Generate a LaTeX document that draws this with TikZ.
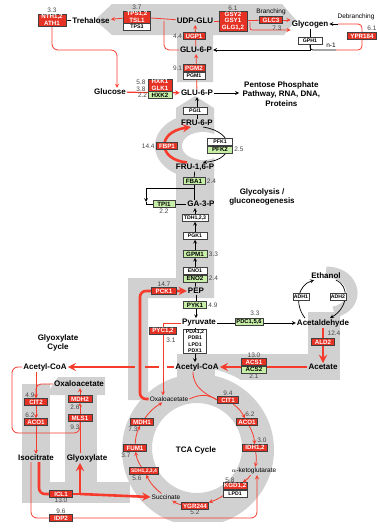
\documentclass[tikz,border=0pt]{standalone}
\usepackage{fontspec}
\setmainfont{Liberation Sans}
\usetikzlibrary{arrows,positioning,calc}

\definecolor{BoxRed}{RGB}{230,50,36}
\definecolor{LineRed}{RGB}{246,58,44}
\definecolor{BoxGreen}{RGB}{198,238,166}
\definecolor{BandGrey}{RGB}{209,209,209}
\definecolor{NumGrey}{RGB}{70,70,70}

\pgfdeclarelayer{bands}
\pgfdeclarelayer{lines}
\pgfsetlayers{bands,lines,main}

\tikzset{
  met/.style={font=\fontsize{8}{9}\selectfont\bfseries, inner sep=1pt},
  sub/.style={font=\fontsize{6.5}{7}\selectfont, inner sep=1pt},
  enz/.style={draw=black!75, line width=0.5pt, fill=BoxRed, text=white,
    font=\fontsize{6.2}{6.6}\selectfont\bfseries, inner sep=0.6pt,
    minimum width=23pt, minimum height=7pt, align=center},
  enzgreen/.style={enz, fill=BoxGreen, text=black},
  enzwhite/.style={enz, fill=white, text=black, font=\fontsize{5.2}{6}\selectfont\bfseries},
  num/.style={text=NumGrey, font=\fontsize{6.5}{7}\selectfont, inner sep=0.5pt},
  heading/.style={font=\fontsize{8}{9.5}\selectfont\bfseries, align=center},
  redthick/.style={LineRed, line width=2.6pt},
  redthin/.style={LineRed, line width=0.8pt},
  blackline/.style={black, line width=0.7pt},
}

\begin{document}
\begin{tikzpicture}[x=1pt,y=-1pt]
\useasboundingbox (0,0) rectangle (377,522);

% ---------- grey bands ----------
\begin{pgfonlayer}{bands}
  % storage carbohydrates
  \fill[BandGrey] (95,20) -- (112,4) -- (282,4) -- (296,20) -- (284,35)
    -- (213,35) -- (213,82) -- (177,82) -- (177,35) -- (112,35) -- cycle;
  % glycolysis column
  \fill[BandGrey] (176,108) -- (195,96) -- (214,108) -- (214,298)
    -- (148,298) -- (148,400) -- (128,400) -- (128,278) -- (176,278) -- cycle;
  \begin{scope}
    \clip (0,0) rectangle (214,522);
    \fill[BandGrey] (197,146) ellipse [x radius=42pt, y radius=32pt];
  \end{scope}
  \fill[white] (203,146) ellipse [x radius=21pt, y radius=14pt];
  % acetyl-CoA block and ethanol
  \fill[BandGrey] (177,354) rectangle (340,380);
  \fill[BandGrey] (177,354) rectangle (215,398);
  \fill[BandGrey] (308,312) rectangle (340,354);
  \draw[BandGrey, line width=11pt] (326,272) .. controls (356,272) and (362,306) .. (334,312);
  % TCA ring
  \begin{scope}
    \clip (215,0) rectangle (377,522);
    \fill[white] (198,450) circle [radius=82pt];
  \end{scope}
  \fill[BandGrey, even odd rule] (198,450) circle [radius=76pt]
    (197,448) circle [radius=45pt];
  % glyoxylate cycle
  \fill[BandGrey] (22,384) rectangle (50,503);
  \fill[BandGrey] (22,482) rectangle (130,503);
  \fill[BandGrey] (65,392) rectangle (97,482);
  \fill[BandGrey] (48,392) -- (58,377) -- (105,377) -- (105,395) -- (48,395) -- cycle;
\end{pgfonlayer}

% ---------- metabolites ----------
\node[met] (trehalose) at (91,21) {Trehalose};
\node[met] (udpglu) at (195,21) {UDP-GLU};
\node[met] (glycogen) at (310,24) {Glycogen};
\node[met] (glu6pa) at (196,50) {GLU-6-P};
\node[met] (glucose) at (110,92) {Glucose};
\node[met] (glu6pb) at (197,93) {GLU-6-P};
\node[heading, anchor=west] (ppp) at (239,94) {Pentose Phosphate\\Pathway, RNA, DNA,\\Proteins};
\node[met] (fru6p) at (197,123) {FRU-6-P};
\node[met] (fru16p) at (195,167) {FRU-1,6-P};
\node[heading] (glyc) at (262,197) {Glycolysis /\\gluconeogenesis};
\node[met] (ga3p) at (201,204) {GA-3-P};
\node[met] (pep) at (196,291) {PEP};
\node[met] (pyruvate) at (199,323) {Pyruvate};
\node[met] (acetaldehyde) at (323,323) {Acetaldehyde};
\node[met] (ethanol) at (326,276) {Ethanol};
\node[met] (acetate) at (323,367) {Acetate};
\node[met] (acoar) at (197,367) {Acetyl-CoA};
\node[met] (acoal) at (45,367) {Acetyl-CoA};
\node[heading] (glyox) at (58,343) {Glyoxylate\\Cycle};
\node[met] (oaal) at (79,384) {Oxaloacetate};
\node[met] (isocitrate) at (36,458) {Isocitrate};
\node[met] (glyoxylate) at (87,458) {Glyoxylate};
\node[met] (tcalabel) at (196,450) {TCA Cycle};
\node[sub] (oaa) at (169,399) {Oxaloacetate};
\node[sub] (akg) at (254,471) {$\alpha$-ketoglutarate};
\node[sub] (succinate) at (166,497) {Succinate};

% ---------- enzymes ----------
\node[enz, minimum width=28pt] (nth) at (52,20) {NTH1,2\\ATH1};
\node[num, above=0pt of nth] {3.3};
\node[enz, minimum width=27pt] (tps) at (137,17) {TPS1,2\\TSL1};
\node[enzwhite, minimum width=27pt, below=0pt of tps] (tps3) {TPS3};
\node[num, above=0pt of tps] {3.7};
\node[enz, minimum width=28pt] (gsy) at (233,21) {GSY2\\GSY1\\GLG1,2};
\node[num, above=0pt of gsy] {6.1};
\node[enz] (glc3) at (271,20) {GLC3};
\node[sub, above=0pt of glc3] {Branching};
\node[num] at (277,28) {7.3};
\node[sub] at (356,17) {Debranching};
\node[enz, minimum width=29pt] (ypr) at (362,36) {YPR184};
\node[num] at (372,28) {6.1};
\node[enzwhite, minimum width=24pt] (gph1) at (310,41) {GPH1};
\node[sub] at (331,45) {n-1};
\node[enz, minimum width=22pt] (ugp1) at (194,36) {UGP1};
\node[num, left=0pt of ugp1] {4.4};
\node[enz, minimum width=22pt] (pgm2) at (194,68) {PGM2};
\node[enzwhite, minimum width=22pt, below=0pt of pgm2] (pgm1) {PGM1};
\node[num, left=0pt of pgm2] {9.1};
\node[enz, minimum width=24pt] (hxk) at (160,85) {HXK1\\GLK1};
\node[enzgreen, minimum width=24pt, below=0pt of hxk] (hxk2) {HXK2};
\node[num] at (141,82) {5.8};
\node[num] at (141,89) {3.8};
\node[num, left=0pt of hxk2] {2.2};
\node[enzwhite, minimum width=24pt] (pgi1) at (195,111) {PGI1};
\node[enz, minimum width=21pt] (fbp1) at (167,146) {FBP1};
\node[num, left=1pt of fbp1] {14.4};
\node[enzwhite, minimum width=25pt] (pfk1) at (220,142) {PFK1};
\node[enzgreen, minimum width=25pt, below=0pt of pfk1] (pfk2) {PFK2};
\node[num, right=1pt of pfk2] {2.5};
\node[enzgreen, minimum width=22pt] (fba1) at (194,181) {FBA1};
\node[num, right=1pt of fba1] {2.4};
\node[enzgreen, minimum width=22pt] (tpi1) at (164,204) {TPI1};
\node[num, below=0.5pt of tpi1] {2.2};
\node[enzwhite, minimum width=26pt] (tdh) at (195,218) {TDH1,2,3};
\node[enzwhite, minimum width=24pt] (pgk1) at (195,236) {PGK1};
\node[enzgreen, minimum width=24pt] (gpm1) at (195,254) {GPM1};
\node[num, right=1pt of gpm1] {3.3};
\node[enzwhite, minimum width=24pt] (eno1) at (195,271) {ENO1};
\node[enzgreen, minimum width=24pt, below=0pt of eno1] (eno2) {ENO2};
\node[num, right=1pt of eno2] {2.4};
\node[enz, minimum width=25pt] (pck1) at (164,291) {PCK1};
\node[num, above=0pt of pck1] {14.7};
\node[enzgreen, minimum width=23pt] (pyk1) at (195,305) {PYK1};
\node[num, right=1pt of pyk1] {4.9};
\node[enz, minimum width=27pt] (pyc) at (163,331) {PYC1,2};
\node[num] at (171,340) {3.1};
\node[enzwhite, minimum width=23pt, font=\fontsize{5.2}{6.4}\selectfont\bfseries] (pda) at (195,341) {PDA1,2\\PDB1\\LPD1\\PDX1};
\node[enzgreen, minimum width=28pt, font=\fontsize{5.8}{6.6}\selectfont\bfseries] (pdc) at (249,322) {PDC1,5,6};
\node[num] at (255,313) {3.3};
\node[enzwhite, minimum width=16pt] (adh1) at (301,297) {ADH1};
\node[enzwhite, minimum width=16pt] (adh2) at (338,297) {ADH2};
\node[enz] (ald2) at (323,342) {ALD2};
\node[num] at (334,333) {12.4};
\node[enz, minimum width=25pt] (acs1) at (254,362) {ACS1};
\node[enzgreen, minimum width=25pt, below=0pt of acs1] (acs2) {ACS2};
\node[num, above=0pt of acs1] {13.0};
\node[num, below=0pt of acs2] {2.1};
\node[enz] (cit2) at (36,402) {CIT2};
\node[num] at (30,395) {4.9};
\node[enz] (aco1g) at (36,422) {ACO1};
\node[num] at (30,415) {6.2};
\node[enz, minimum width=24pt] (mdh2) at (80,399) {MDH2};
\node[num] at (75,407) {2.6};
\node[enz, minimum width=24pt] (mls1) at (80,418) {MLS1};
\node[num] at (75,427) {9.3};
\node[enz] (icl1) at (61,494) {ICL1};
\node[num, below=0pt of icl1] {13.0};
\node[enz] (idp2) at (61,518) {IDP2};
\node[num, above=0pt of idp2] {9.6};
\node[enz, minimum width=21pt] (cit1) at (228,400) {CIT1};
\node[num, above=0pt of cit1] {9.4};
\node[enz, minimum width=21pt] (aco1) at (247,422) {ACO1};
\node[num] at (250,414) {6.2};
\node[enz, minimum width=25pt] (idh) at (255,448) {IDH1,2};
\node[num] at (262,440) {3.0};
\node[enz, minimum width=24pt] (kgd) at (235,486) {KGD1,2};
\node[enzwhite, minimum width=24pt, below=0pt of kgd] (lpd1) {LPD1};
\node[num] at (230,480) {5.8};
\node[enz, minimum width=27pt] (ygr) at (195,506) {YGR244};
\node[num, below=0pt of ygr] {5.2};
\node[enz, minimum width=29pt, font=\fontsize{5}{6}\selectfont\bfseries] (sdh) at (144,471) {SDH1,2,3,4};
\node[num] at (137,478) {5.6};
\node[enz] (fum1) at (135,448) {FUM1};
\node[num] at (126,455) {3.7};
\node[enz] (mdh1) at (142,422) {MDH1};
\node[num] at (133,429) {7.3};

% ---------- connectors ----------
\begin{pgfonlayer}{lines}
  % storage carbohydrates
  \draw[blackline] (nth) -- (trehalose);
  \draw[redthin, -stealth] (tps) -- (trehalose);
  \draw[redthin] (udpglu) -- (tps);
  \draw[redthin, rounded corners=5pt] (glu6pa.west) -- (164,50) -- (164,21);
  \draw[redthin] (udpglu) -- (gsy);
  \draw[redthin] (gsy) -- (glc3);
  \draw[redthin, -stealth] (glc3.east) -- (glycogen.west |- glc3.east);
  \draw[redthin, -stealth, rounded corners=2pt] (250,22) -- (250,30) -- (glycogen.west |- 0,30);
  \draw[redthin, rounded corners=4pt] (ypr.north) -- (362,24) -- (338,24);
  \draw[blackline, -stealth] (338,24) -- (glycogen.east);
  \draw[redthin, rounded corners=4pt] (ypr.south) -- (362,50) -- (336,50);
  \draw[blackline] (glycogen) -- (gph1);
  \draw[blackline, -stealth] (gph1) |- (glu6pa);
  \draw[blackline, rounded corners=3pt] (gph1.south) |- (336,50);
  \draw[redthin, -stealth] (glu6pa) -- (udpglu);
  \draw[redthin, -stealth] (glu6pb) -- (glu6pa);
  \draw[redthin, -stealth, rounded corners=6pt] (nth.south) -- (52,50) -- (117,50)
    -- ($(glucose.north)+(7,0)$);
  \draw[LineRed, line width=1.1pt, -stealth] (glucose) -- (glu6pb);
  \draw[blackline, -stealth] (glu6pb) -- (ppp.west |- glu6pb);
  % upper glycolysis
  \draw[blackline, -stealth] (fru6p) -- (glu6pb);
  \draw[redthick, -stealth] ($(fru16p.north)+(-8,0)$) .. controls (158,160) and (156,132) .. ($(fru6p.south)+(-6,0)$);
  \draw[blackline, -stealth] ($(fru6p.south)+(6,0)$) .. controls (236,132) and (236,160) .. ($(fru16p.north)+(8,0)$);
  \draw[blackline] (fru16p) -- (fba1);
  \draw[blackline] (fba1) -- (ga3p.north -| fba1);
  \draw[blackline, -stealth] (194,188) -| (146,202);
  \draw[blackline] (146,202) |- (tpi1.west);
  \draw[blackline] (tpi1) -- (ga3p);
  % lower glycolysis
  \draw[blackline, -stealth] (tdh) -- (ga3p.south -| tdh);
  \draw[blackline, -stealth] (pgk1) -- (tdh);
  \draw[blackline, -stealth] (gpm1) -- (pgk1);
  \draw[blackline, -stealth] (eno1) -- (gpm1);
  \draw[blackline] (eno2) -- (pep);
  \draw[blackline, -stealth] (pep) -- (pyruvate.north -| pep);
  % acetyl-CoA to glyoxylate cycle, crossed by the anaplerotic lines
  \draw[redthick, -stealth] (acoar) -- (acoal);
  \draw[BandGrey, line width=3.5pt] (135,367) -- (145,367);
  \draw[white, line width=3.5pt] (159,367) -- (167,367);
  \draw[redthick, -stealth, rounded corners=6pt] (oaa.west) -- (140,399) -- (140,291) -- (pep.west);
  \draw[redthin, -stealth] (pyruvate.west) -| ($(oaa.north)+(-6,0)$);
  \draw[blackline] (pyruvate.south -| pda) -- (pda);
  \draw[blackline, -stealth] (pda) -- (acoar.north -| pda);
  \draw[blackline, -stealth] (pyruvate) -- (acetaldehyde);
  % ethanol
  \draw[blackline, -stealth] ($(acetaldehyde.north)+(-18,0)$) .. controls (294,304) and (298,285) .. ($(ethanol.south)+(-12,0)$);
  \draw[blackline, -stealth] ($(ethanol.south)+(10,0)$) .. controls (350,286) and (348,308) .. ($(acetaldehyde.north)+(7,0)$);
  \draw[redthick, -stealth] (acetaldehyde) -- (acetate);
  \draw[redthick, -stealth] (acetate) -- (acoar);
  % glyoxylate cycle
  \draw[redthin, -stealth] ($(acoal.south)+(-9,0)$) -- (cit2);
  \draw[redthin, rounded corners=5pt] (oaal.west) -| (cit2.north);
  \draw[redthin, rounded corners=6pt] (acoal.west) -- (12,367) -- (12,433) -- (80,433) -- (mls1.south);
  \draw[redthin, -stealth] (cit2) -- (aco1g);
  \draw[redthin, -stealth] (aco1g) -- (isocitrate.north -| aco1g);
  \draw[redthin] (glyoxylate.north -| mls1) -- (mls1);
  \draw[redthin, -stealth] (mls1) -- (mdh2);
  \draw[redthin, -stealth] (mdh2) -- (oaal.south -| mdh2);
  \coordinate (iclsplit) at (80,494);
  \draw[redthick, rounded corners=6pt] ($(isocitrate.south)+(3,0)$) |- (icl1.west);
  \draw[redthick] (icl1) -- (iclsplit);
  \draw[redthick, -stealth] (iclsplit) -- (glyoxylate.south -| iclsplit);
  \draw[redthick, -stealth] (iclsplit) -- (succinate.west);
  \draw[redthin, -stealth, rounded corners=6pt] ($(isocitrate.south)+(-5,0)$) -- (31,518)
    -- (257,518) -- ($(akg.south)+(3,0)$);
  % TCA cycle
  \draw[redthin] ($(acoar.south)+(-4,0)$) .. controls (193,388) and (206,394) .. (cit1.west);
  \draw[redthin] (oaa.east) .. controls (200,394) and (208,394) .. (cit1.west);
  \draw[redthin, -stealth] (cit1) to[bend left=12] (aco1);
  \draw[redthin, -stealth] (aco1) to[bend left=12] (idh);
  \draw[redthin, -stealth] (idh) to[bend left=12] (akg);
  \draw[redthin, -stealth] (akg) to[bend left=12] (kgd);
  \draw[redthin, -stealth] (kgd) to[bend left=12] (ygr);
  \draw[redthin, -stealth] (ygr) to[bend left=12] (succinate);
  \draw[redthin, -stealth] (succinate) to[bend left=12] (sdh);
  \draw[redthin, -stealth] (sdh) to[bend left=12] (fum1);
  \draw[redthin, -stealth] (fum1) to[bend left=12] (mdh1);
  \draw[redthin, -stealth] (mdh1) to[bend left=12] (oaa);
\end{pgfonlayer}
\end{tikzpicture}
\end{document}
